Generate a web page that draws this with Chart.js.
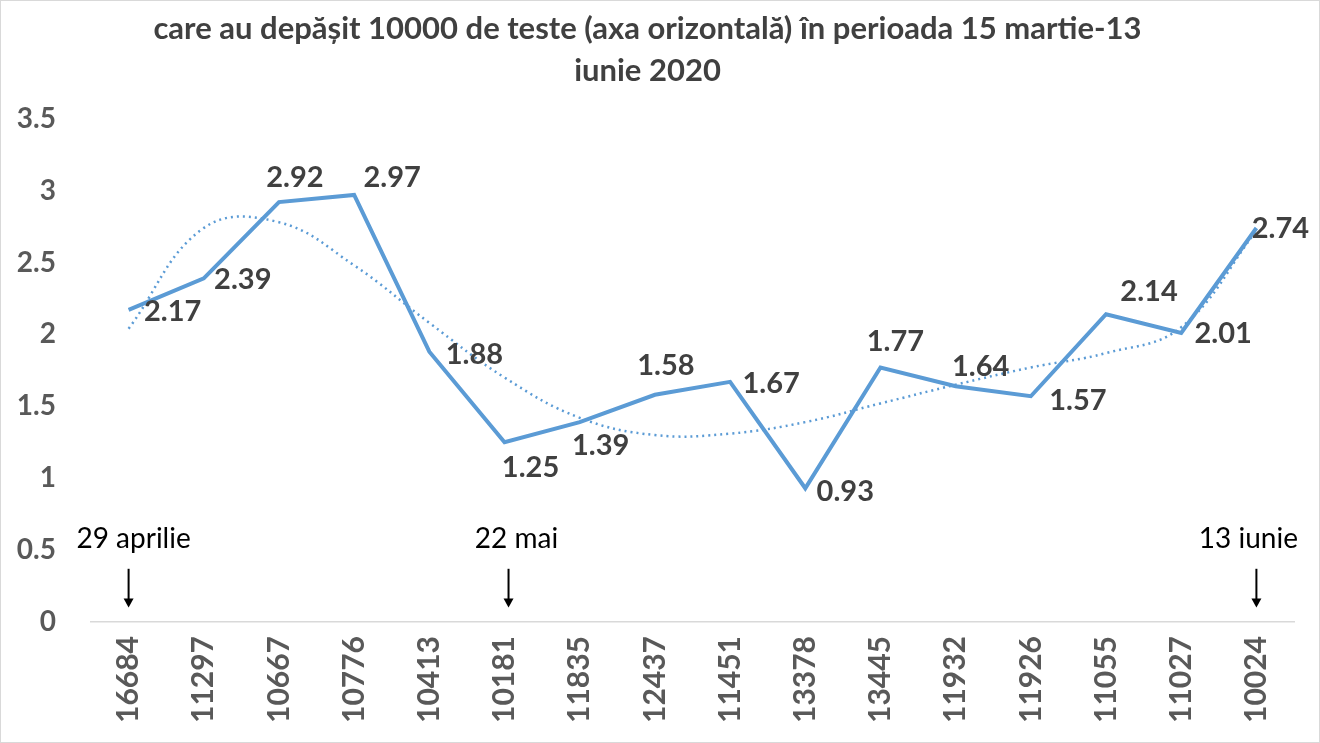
<!DOCTYPE html>
<html>
<head>
<meta charset="utf-8">
<script src="https://cdn.jsdelivr.net/npm/chart.js@4"></script>
<style>
  body { margin: 0; background: #fff; }
  #cadru { width: 1318px; height: 741px; border: 1px solid #d9d9d9; }
</style>
</head>
<body>
<div id="cadru"><canvas id="grafic"></canvas></div>
<script>
// numarul de teste pe zi (axa orizontala)
const teste = ['16684', '11297', '10667', '10776', '10413', '10181', '11835', '12437',
  '11451', '13378', '13445', '11932', '11926', '11055', '11027', '10024'];
// procent cazuri pozitive
const procente = [2.17, 2.39, 2.92, 2.97, 1.88, 1.25, 1.39, 1.58, 1.67, 0.93, 1.77, 1.64, 1.57, 2.14, 2.01, 2.74];
// linia de tendinta
const tendinta = [2.04, 2.74, 2.78, 2.48, 2.08, 1.70, 1.42, 1.30, 1.31, 1.39, 1.52, 1.65, 1.77, 1.87, 2.05, 2.72];
const tickuriY = [0, 0.5, 1, 1.5, 2, 2.5, 3, 3.5];
// adnotari: index categorie si text
const repere = [[0, '29 aprilie'], [5, '22 mai'], [15, '13 iunie']];

// deplasarea etichetelor fata de punct
const deplasari = [[44, 2], [39, 1], [16, -24], [38, -17], [45, 3], [26, 25], [21, 24], [11, -29],
  [41, 2], [40, 3], [15, -26], [25, -20], [47, 4], [43, -23], [42, 1], [24, 1]];

const etichete = {
  id: 'etichete',
  afterDatasetsDraw(chart) {
    const ctx = chart.ctx;
    const meta = chart.getDatasetMeta(0);
    ctx.save();
    ctx.font = 'bold 29px Lato';
    ctx.fillStyle = '#404040';
    ctx.textAlign = 'center';
    ctx.textBaseline = 'middle';
    meta.data.forEach((p, i) => {
      ctx.fillText(String(procente[i]), p.x + deplasari[i][0], p.y + deplasari[i][1]);
    });

    const x = chart.scales.x, y = chart.scales.y;
    ctx.font = '28px Lato';
    ctx.fillStyle = '#000';
    ctx.strokeStyle = '#000';
    ctx.lineWidth = 2;
    repere.forEach(([idx, txt]) => {
      const px = x.getPixelForValue(idx);
      const dx = idx === 15 ? -8 : (idx === 0 ? 5 : 12);
      ctx.fillText(txt, px + dx, y.getPixelForValue(0.575));
      const top = y.getPixelForValue(0.37), bot = y.getPixelForValue(0.1);
      const ax = px + (idx === 5 ? 4 : 0);
      ctx.beginPath();
      ctx.moveTo(ax, top);
      ctx.lineTo(ax, bot - 6);
      ctx.stroke();
      ctx.beginPath();
      ctx.moveTo(ax - 5, bot - 9);
      ctx.lineTo(ax + 5, bot - 9);
      ctx.lineTo(ax, bot);
      ctx.closePath();
      ctx.fill();
    });
    ctx.restore();
  }
};

new Chart(document.getElementById('grafic'), {
  type: 'line',
  data: {
    labels: teste,
    datasets: [{
      data: procente,
      borderColor: '#5b9bd5',
      borderWidth: 4,
      pointRadius: 0,
      tension: 0
    }, {
      data: tendinta,
      borderColor: '#5b9bd5',
      borderWidth: 2.5,
      borderDash: [2, 4],
      pointRadius: 0,
      tension: 0.4
    }]
  },
  options: {
    responsive: true,
    maintainAspectRatio: false,
    animation: false,
    layout: { padding: { left: 0, right: 25, top: 0, bottom: 0 } },
    plugins: {
      legend: { display: false },
      tooltip: { enabled: false },
      title: {
        display: true,
        text: ['care au depășit 10000 de teste (axa orizontală) în perioada 15 martie-13', 'iunie 2020'],
        color: '#404040',
        font: { family: 'Lato', size: 31, weight: 'bold', lineHeight: 1.35 },
        padding: { top: 7, bottom: 27 }
      }
    },
    scales: {
      x: {
        offset: true,
        grid: { display: false, drawTicks: false },
        border: { color: '#d9d9d9', width: 1.5 },
        ticks: {
          color: '#595959',
          font: { family: 'Lato', size: 30, weight: 'bold' },
          minRotation: 90, maxRotation: 90,
          padding: 14
        },
        afterFit(s) { s.height = 120; }
      },
      y: {
        min: 0, max: 3.5,
        grid: { display: false, drawTicks: false },
        border: { display: false },
        afterBuildTicks(s) { s.ticks = tickuriY.map(v => ({ value: v })); },
        ticks: {
          color: '#595959',
          font: { family: 'Lato', size: 28, weight: 'bold' },
          padding: 35,
          callback: v => String(v)
        },
        afterFit(s) { s.width = 90; }
      }
    }
  },
  plugins: [etichete]
});
</script>
</body>
</html>
